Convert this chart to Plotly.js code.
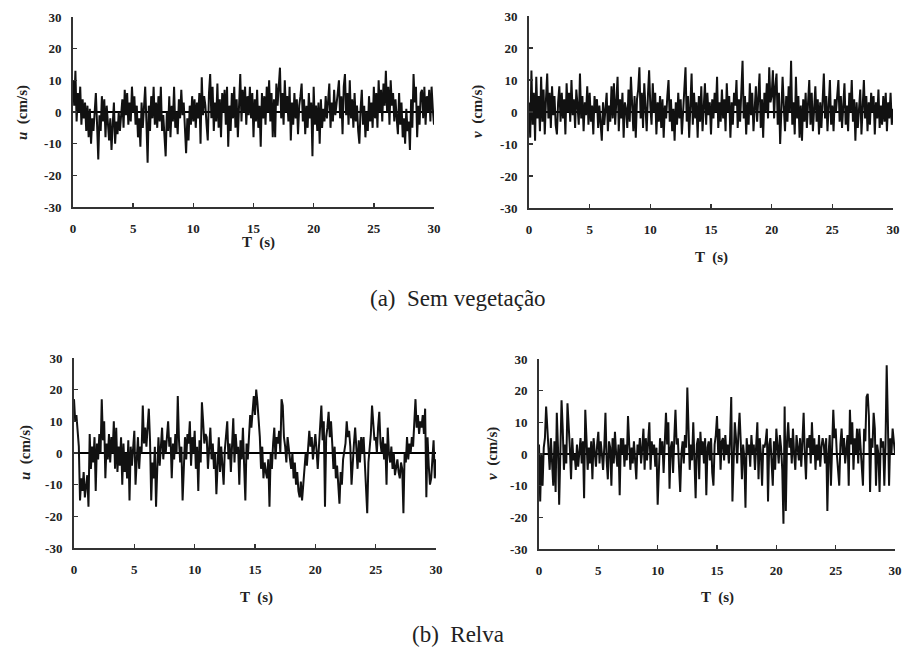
<!DOCTYPE html>
<html>
<head>
<meta charset="utf-8">
<script src="https://cdn.plot.ly/plotly-3.0.1.min.js"></script>
<style>html,body{margin:0;padding:0;background:#fff;}#chart{width:903px;height:657px;}</style>
</head>
<body>
<div id="chart"></div>
<script>
// sampling step of the series (s)
const dt = 0.1;

// (a) Sem vegetação — u (cm/s)
const uSem = [
10,2,13,-3,6,0,8,-4,4,-2,
3,-6,2,-8,1,-10,-2,-6,0,6,
-4,-15,-1,-6,5,-3,4,-8,2,-5,
-9,-2,-12,-4,3,-10,-3,-7,0,-6,
-2,4,-5,7,-1,6,-4,3,-3,8,
0,5,-4,2,-8,-2,-11,3,-5,1,
8,-3,-16,2,-6,5,-2,8,-4,3,
-5,5,-3,8,-6,-1,-8,-14,0,-6,
5,-8,2,-3,8,-5,0,-7,4,-2,
7,-1,3,-6,-13,-2,-9,2,-4,5,
-3,4,-5,3,-2,6,-10,11,-1,5,
2,-4,-9,6,12,-2,8,-6,3,-3,
9,-5,4,-8,6,0,7,-4,8,-11,
2,-6,6,-2,8,-5,4,-8,3,12,
-3,7,0,8,-4,5,-1,8,-2,6,
-8,4,-3,7,-5,2,-11,6,-2,5,
-4,8,0,10,-3,6,-8,4,-8,9,
2,7,14,-2,6,-4,10,0,5,-3,
8,-9,3,-4,6,-2,4,-7,2,5,
9,-3,4,-7,2,-5,6,-2,3,-14,
8,-4,2,-6,3,-10,4,-5,1,-3,
5,-2,6,9,-5,3,-3,7,-1,4,
6,10,-2,5,-7,8,12,-1,6,-4,
10,-2,4,-5,6,-3,2,-6,-10,1,
7,-4,2,-8,0,-6,5,-3,3,-5,
8,-2,6,-5,10,0,7,-3,9,2,
13,0,8,-4,10,2,6,-3,4,-2,
-7,6,-4,3,-8,-2,-10,1,-6,-3,
-12,4,-5,12,3,8,-8,2,-4,6,
7,-2,8,-4,5,0,7,-3,8,1,
-4];

// (a) Sem vegetação — v (cm/s)
const vSem = [
3,-8,13,-4,6,-9,11,-2,5,-6,
11,-3,7,-7,4,12,-2,6,-5,8,
-1,5,-4,-7,3,8,-3,6,-2,4,
-7,9,0,6,-3,10,-1,4,-5,7,
2,-4,12,-2,5,-6,3,-1,8,-4,
6,-3,2,-7,5,0,4,-5,2,-3,
-9,3,-4,1,6,-6,2,-3,8,-2,
9,-4,3,11,-6,4,-2,6,-8,3,
1,-5,7,-3,11,2,-6,5,-8,4,
7,14,-2,6,-5,9,3,-6,5,13,
2,-4,9,0,6,-7,3,-3,5,-5,
4,-8,2,-2,5,10,-3,4,-6,1,
-9,3,-4,6,-2,4,-7,2,7,14,
-3,5,-8,2,12,-4,6,-2,3,-8,
5,-3,8,-6,2,9,-4,6,-1,3,
-7,4,-2,6,0,11,-5,3,-3,7,
-2,4,-6,9,0,5,-8,3,-4,6,
2,10,-5,4,-3,6,16,-2,5,-7,
3,-4,9,-1,6,-6,2,8,-3,5,
12,-5,4,-8,6,0,9,-2,14,3,
5,13,-2,8,12,-4,6,-10,4,11,
2,-6,5,-3,8,0,16,-4,3,-7,
11,-2,5,-8,2,-9,4,-3,6,-5,
3,10,-4,6,-6,2,8,-3,4,-7,
3,-5,6,12,-2,5,-6,3,10,-4,
2,-6,4,0,7,10,-3,5,-5,3,
9,-4,2,-6,6,0,10,-3,4,-9,
3,-5,2,7,-7,4,10,-2,5,-6,
3,-4,6,0,5,-7,3,-2,7,-5,
2,-4,5,-3,6,-6,3,-2,6,-4,
1];

// (b) Relva — u (cm/s)
const uRelva = [
17,10,12,6,2,-15,-8,-12,-6,-14,
-10,-7,-17,6,-5,2,-3,5,-12,3,
-2,6,0,17,4,10,-8,3,-2,6,
-3,5,0,10,-5,8,-6,2,-4,5,
-10,3,-6,0,-8,4,-15,2,-4,3,
7,-10,-3,5,-5,2,0,15,3,8,
2,10,14,4,-15,-3,-8,2,-17,-5,
5,-4,3,8,-2,4,0,6,10,2,
5,-8,3,-2,6,0,18,4,-3,2,
-15,-5,5,-2,6,3,10,-4,5,0,
7,-5,2,-12,4,-3,16,10,3,6,
5,-5,2,8,-2,3,-5,0,-13,-2,
5,-6,2,-4,-10,1,5,10,-2,3,
-6,4,11,-3,6,0,2,-10,4,-2,
8,-4,-15,3,-2,5,12,8,14,18,
12,20,16,10,5,-5,2,-8,-3,-6,
-8,-2,-17,0,-5,3,8,-2,5,3,
7,0,17,15,5,2,-3,5,0,-2,
-5,0,-8,-3,-10,-6,-12,-14,-9,-15,
-10,-5,0,-4,3,7,2,5,-2,3,
6,1,-5,2,8,15,4,10,-17,5,
8,13,5,10,3,-5,2,-8,-4,-10,
-16,-6,-10,-2,0,3,10,5,7,2,
-10,-2,3,8,0,-5,4,-3,5,0,
5,-4,-10,-19,-3,2,6,15,10,4,
5,0,8,13,3,0,5,-2,3,-10,
8,0,-3,2,-5,0,-7,-4,-2,-6,
-8,-3,-5,-19,0,-3,5,-2,3,0,
5,2,10,17,8,12,6,10,8,12,
6,14,-14,5,-4,-10,-8,0,4,-8,
-2];

// (b) Relva — v (cm/s)
const vRelva = [
3,-15,0,-10,2,5,15,8,3,-5,
5,-3,-10,4,-12,13,2,-16,6,17,
8,-5,3,-3,16,10,2,-8,5,-2,
0,-5,3,-4,2,5,-3,4,-14,14,
5,-5,2,-3,4,-8,5,0,-4,3,
7,-3,4,0,-5,2,13,-2,-8,4,
2,-10,5,-3,7,0,-4,3,-13,5,
0,5,-4,3,-2,12,5,-5,2,-3,
4,-1,-8,3,0,5,-3,2,8,-5,
5,-2,3,10,-5,4,0,3,-4,2,
-16,-8,5,0,4,-6,6,13,3,10,
-11,2,4,-6,5,14,3,5,-4,-12,
0,4,-3,6,2,21,8,-5,3,-2,
10,-4,-14,3,5,-8,7,0,4,-3,
5,-13,2,4,-2,5,-6,-10,3,6,
12,0,8,-5,4,5,-2,6,0,3,
-3,5,18,-15,2,10,5,-3,6,13,
4,-8,3,-1,-17,5,0,3,-4,6,
0,3,-5,4,10,-8,5,0,-10,3,
2,4,8,-15,3,5,-2,-10,4,-5,
8,0,-3,6,2,-5,-22,15,-18,4,
10,2,5,-3,8,0,-5,6,2,-2,
5,-4,4,13,0,-8,5,2,6,-3,
10,0,5,-5,3,-2,6,-4,2,5,
3,-3,5,-18,0,6,-10,2,14,5,
8,0,-4,-10,3,8,0,5,-3,2,
6,-10,14,3,10,-5,5,0,8,-3,
8,2,-3,-10,8,4,18,19,12,-12,
5,2,13,8,-10,3,0,-12,5,2,
4,-10,3,28,10,-10,5,0,8,3,
0];

// tick labels
const xTickVals = [0,5,10,15,20,25,30];
const xTickText = ['0','5','10','15','20','25','30'];
const yTickVals = [-30,-20,-10,0,10,20,30];
const yTickText = ['-30','-20','-10','0','10','20','30'];

// text
const xTitle = 'T  (s)';
const yTitles = ['<i>u</i>  (cm/s)', '<i>v</i>  (cm/s)', '<i>u</i>  (cm/s)', '<i>v</i>  (cm/s)'];
const captions = ['(a)  Sem vegetação', '(b)  Relva'];

const series = [uSem, vSem, uRelva, vRelva];
const times = uSem.map((_, i) => Math.round(i * dt * 10) / 10);

const W = 903, H = 657;
// plot boxes in pixels: [left, right, top, bottom]
const boxes = [
  [73, 434, 17, 207],
  [529, 893, 16, 208],
  [74, 436, 358, 548],
  [539, 895, 359, 549]
];

const tickFont = {family: 'Liberation Serif, Times New Roman, serif', size: 13, color: '#222', weight: 'bold'};
const traces = series.map((ys, k) => ({
  type: 'scatter', mode: 'lines',
  x: times, y: ys,
  xaxis: k === 0 ? 'x' : 'x' + (k + 1),
  yaxis: k === 0 ? 'y' : 'y' + (k + 1),
  line: {color: '#111', width: 2},
  hoverinfo: 'skip', showlegend: false
}));

const layout = {
  width: W, height: H,
  margin: {l: 0, r: 0, t: 0, b: 0},
  paper_bgcolor: '#fff', plot_bgcolor: '#fff',
  showlegend: false,
  annotations: []
};

boxes.forEach((b, k) => {
  const sfx = k === 0 ? '' : String(k + 1);
  layout['xaxis' + sfx] = {
    domain: [b[0] / W, b[1] / W], anchor: 'y' + sfx,
    range: [0, 30], tickvals: xTickVals, ticktext: xTickText,
    ticks: 'inside', ticklen: 4, tickwidth: 1.5, tickcolor: '#333',
    showline: true, linecolor: '#333', linewidth: 2,
    showgrid: false, zeroline: false, tickfont: tickFont,
    ticklabelstandoff: 8
  };
  layout['yaxis' + sfx] = {
    domain: [1 - b[3] / H, 1 - b[2] / H], anchor: 'x' + sfx,
    range: [-30, 30], tickvals: yTickVals, ticktext: yTickText,
    ticks: 'inside', ticklen: 4, tickwidth: 1.5, tickcolor: '#333',
    showline: true, linecolor: '#333', linewidth: 2,
    showgrid: false, zeroline: true, zerolinecolor: '#000', zerolinewidth: 1.5,
    tickfont: tickFont, ticklabelstandoff: 7
  };
});

const titleFont = {family: 'Liberation Serif, Times New Roman, serif', size: 15, color: '#222', weight: 'bold'};
const yTitlePos = [[22, 113], [477, 112], [25, 453], [492, 454]];
const xTitlePos = [[258, 243], [711, 257], [256, 597], [717, 597]];
yTitlePos.forEach((p, k) => layout.annotations.push({
  xref: 'paper', yref: 'paper', x: p[0] / W, y: 1 - p[1] / H,
  xanchor: 'center', yanchor: 'middle', showarrow: false,
  text: yTitles[k], textangle: -90, font: titleFont
}));
xTitlePos.forEach((p) => layout.annotations.push({
  xref: 'paper', yref: 'paper', x: p[0] / W, y: 1 - p[1] / H,
  xanchor: 'center', yanchor: 'middle', showarrow: false,
  text: xTitle, font: titleFont
}));
const capFont = {family: 'Liberation Serif, Times New Roman, serif', size: 23, color: '#222'};
[[458, 299], [458, 634]].forEach((p, k) => layout.annotations.push({
  xref: 'paper', yref: 'paper', x: p[0] / W, y: 1 - p[1] / H,
  xanchor: 'center', yanchor: 'middle', showarrow: false,
  text: captions[k], font: capFont
}));

Plotly.newPlot('chart', traces, layout, {staticPlot: true, displayModeBar: false});
</script>
</body>
</html>
